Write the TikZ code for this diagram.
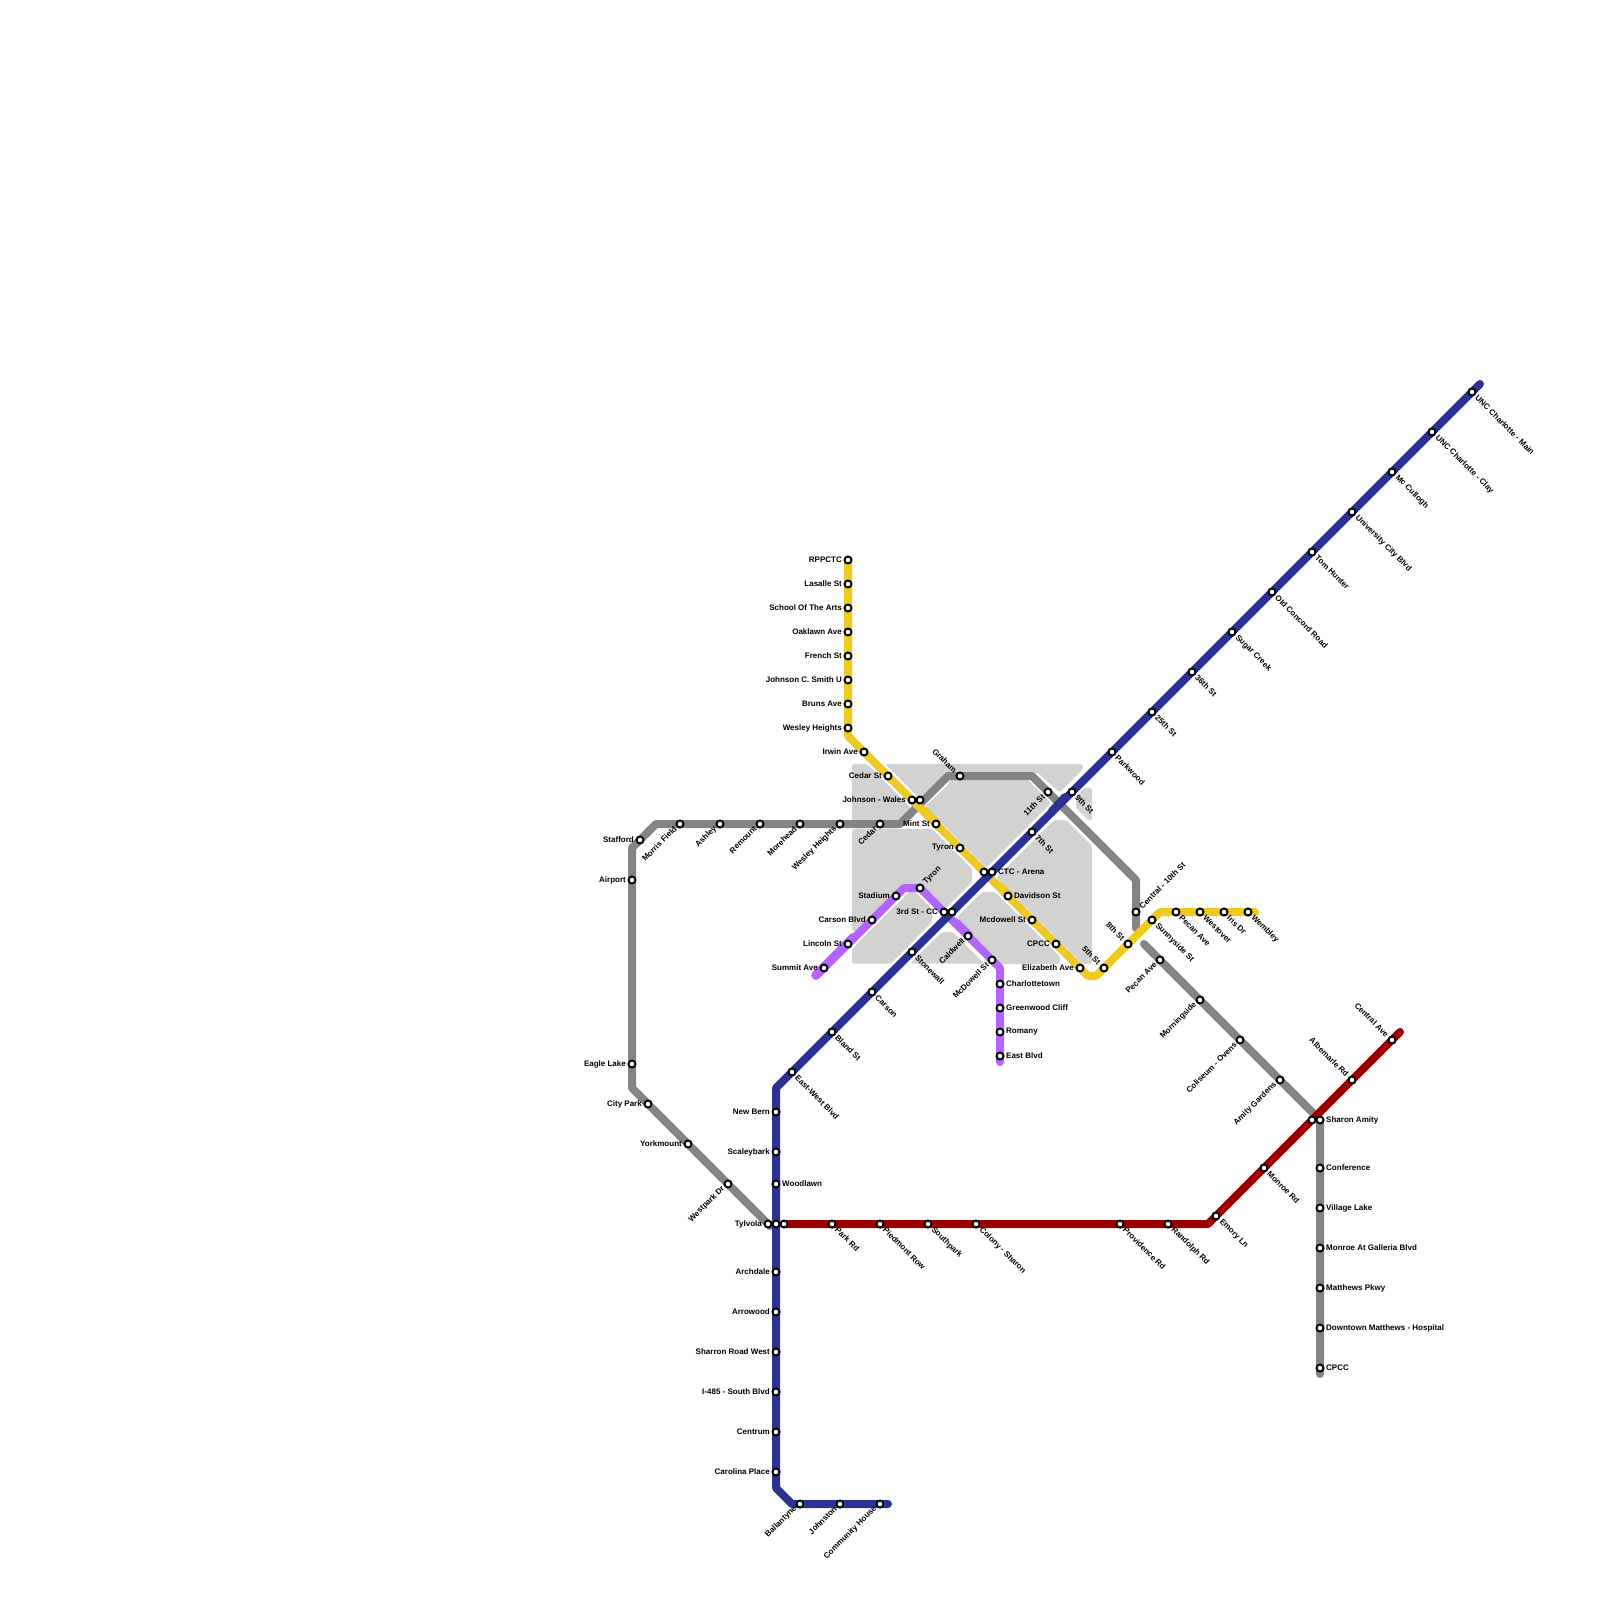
\documentclass[tikz,border=0pt]{standalone}
\usepackage{fontspec}
\setmainfont{Liberation Sans}
\usetikzlibrary{calc}
\pgfdeclarelayer{lines}
\pgfsetlayers{lines,main}
\definecolor{cgray}{HTML}{848484}
\definecolor{cyellow}{HTML}{F0CB1F}
\definecolor{cblue}{HTML}{2A3490}
\definecolor{cpurple}{HTML}{B565FF}
\definecolor{cred}{HTML}{990000}
\definecolor{cdistrict}{HTML}{D2D2D2}
\tikzset{
  stnmark/.style={circle,draw=black,fill=white,line width=2pt,minimum size=7pt,inner sep=0pt},
  lblbase/.style={inner sep=0pt,font=\fontsize{8}{9}\selectfont\bfseries,text=black},
  lE/.style={lblbase,anchor=west,xshift=6pt},
  lW/.style={lblbase,anchor=east,xshift=-6pt},
  lSE/.style={lblbase,anchor=west,xshift=4.5pt,yshift=-4.5pt,rotate=-45},
  lSW/.style={lblbase,anchor=east,xshift=-4.5pt,yshift=-3.5pt,rotate=45},
  lNE/.style={lblbase,anchor=west,xshift=4.5pt,yshift=4.5pt,rotate=45},
  lNW/.style={lblbase,anchor=east,xshift=-4.5pt,yshift=4.5pt,rotate=-45},
  metro/.style={line width=8pt,line cap=round,line join=round},
  district/.style={fill=cdistrict,rounded corners=2.5pt},
}
\newcommand{\stn}[5]{\node[stnmark] (#1) at (#2,#3) {}; \node[#4] (#1-l) at (#1) {#5};}
\newcommand{\stb}[3]{\node[stnmark] (#1) at (#2,#3) {};}
\begin{document}
\begin{tikzpicture}[x=1pt,y=-1pt]
\useasboundingbox (0,0) rectangle (1600,1600);
% yellow stations
\stn{rpp}{848}{560}{lW}{RPPCTC}
\stn{las}{848}{584}{lW}{Lasalle St}
\stn{sch}{848}{608}{lW}{School Of The Arts}
\stn{oak}{848}{632}{lW}{Oaklawn Ave}
\stn{fre}{848}{656}{lW}{French St}
\stn{jcs}{848}{680}{lW}{Johnson C. Smith U}
\stn{bru}{848}{704}{lW}{Bruns Ave}
\stn{wes}{848}{728}{lW}{Wesley Heights}
\stn{irw}{864}{752}{lW}{Irwin Ave}
\stn{ced}{888}{776}{lW}{Cedar St}
\stn{jwa}{912}{800}{lW}{Johnson - Wales}
\stb{jwb}{920}{800}
\stn{min}{936}{824}{lW}{Mint St}
\stn{tyy}{960}{848}{lW}{Tyron}
\stb{cta}{984}{872}
\stn{ctc}{992}{872}{lE}{CTC - Arena}
\stn{dav}{1008}{896}{lE}{Davidson St}
\stn{mcd}{1032}{920}{lW}{Mcdowell St}
\stn{cpy}{1056}{944}{lW}{CPCC}
\stn{eli}{1080}{968}{lW}{Elizabeth Ave}
\stn{fif}{1104}{968}{lNW}{5th St}
\stn{eig}{1128}{944}{lNW}{8th St}
\stn{sun}{1152}{920}{lSE}{Sunnyside St}
\stn{pey}{1176}{912}{lSE}{Pecan Ave}
\stn{wst}{1200}{912}{lSE}{Westover}
\stn{iri}{1224}{912}{lSE}{Iris Dr}
\stn{wem}{1248}{912}{lSE}{Wembley}
% gray stations
\stn{air}{632}{880}{lW}{Airport}
\stn{sta}{640}{840}{lW}{Stafford}
\stn{mor}{680}{824}{lSW}{Morris Field}
\stn{ash}{720}{824}{lSW}{Ashley}
\stn{rem}{760}{824}{lSW}{Remount}
\stn{moh}{800}{824}{lSW}{Morehead}
\stn{weg}{840}{824}{lSW}{Wesley Heights}
\stn{ceg}{880}{824}{lSW}{Cedar}
\stn{gra}{960}{776}{lNW}{Graham}
\stn{ele}{1048}{792}{lSW}{11th St}
\stn{cen}{1136}{912}{lNE}{Central - 10th St}
\stn{peg}{1160}{960}{lSW}{Pecan Ave}
\stn{mog}{1200}{1000}{lSW}{Morningside}
\stn{col}{1240}{1040}{lSW}{Coliseum - Ovens}
\stn{ami}{1280}{1080}{lSW}{Amity Gardens}
\stb{saa}{1312}{1120}
\stn{sha}{1320}{1120}{lE}{Sharon Amity}
\stn{con}{1320}{1168}{lE}{Conference}
\stn{vil}{1320}{1208}{lE}{Village Lake}
\stn{mon}{1320}{1248}{lE}{Monroe At Galleria Blvd}
\stn{mat}{1320}{1288}{lE}{Matthews Pkwy}
\stn{dow}{1320}{1328}{lE}{Downtown Matthews - Hospital}
\stn{cpg}{1320}{1368}{lE}{CPCC}
\stn{eag}{632}{1064}{lW}{Eagle Lake}
\stn{cit}{648}{1104}{lW}{City Park}
\stn{yor}{688}{1144}{lW}{Yorkmount}
\stn{wep}{728}{1184}{lSW}{Westpark Dr}
\stn{tyl}{768}{1224}{lW}{Tylvola}
% blue stations
\stn{ban}{800}{1504}{lSW}{Ballantyne}
\stn{joh}{840}{1504}{lSW}{Johnston}
\stn{com}{880}{1504}{lSW}{Community House}
\stn{car}{776}{1472}{lW}{Carolina Place}
\stn{cet}{776}{1432}{lW}{Centrum}
\stn{ifo}{776}{1392}{lW}{I-485 - South Blvd}
\stn{shr}{776}{1352}{lW}{Sharron Road West}
\stn{arr}{776}{1312}{lW}{Arrowood}
\stn{arc}{776}{1272}{lW}{Archdale}
\stb{tyb}{776}{1224}
\stn{woo}{776}{1184}{lE}{Woodlawn}
\stn{sca}{776}{1152}{lW}{Scaleybark}
\stn{new}{776}{1112}{lW}{New Bern}
\stn{eas}{792}{1072}{lSE}{East-West Blvd}
\stn{bla}{832}{1032}{lSE}{Bland St}
\stn{cas}{872}{992}{lSE}{Carson}
\stn{sto}{912}{952}{lSE}{Stonewall}
\stn{tha}{944}{912}{lW}{3rd St - CC}
\stb{thb}{952}{912}
\stn{sev}{1032}{832}{lSE}{7th St}
\stn{nin}{1072}{792}{lSE}{9th St}
\stn{par}{1112}{752}{lSE}{Parkwood}
\stn{twe}{1152}{712}{lSE}{25th St}
\stn{thi}{1192}{672}{lSE}{36th St}
\stn{sug}{1232}{632}{lSE}{Sugar Creek}
\stn{old}{1272}{592}{lSE}{Old Concord Road}
\stn{tom}{1312}{552}{lSE}{Tom Hunter}
\stn{uni}{1352}{512}{lSE}{University City Blvd}
\stn{mcc}{1392}{472}{lSE}{Mc Cullogh}
\stn{unc}{1432}{432}{lSE}{UNC Charlotte - Clay}
\stn{unm}{1472}{392}{lSE}{UNC Charlotte - Main}
% purple stations
\stn{sum}{824}{968}{lW}{Summit Ave}
\stn{lin}{848}{944}{lW}{Lincoln St}
\stn{cab}{872}{920}{lW}{Carson Blvd}
\stn{sad}{896}{896}{lW}{Stadium}
\stn{typ}{920}{888}{lNE}{Tyron}
\stn{cal}{968}{936}{lSW}{Caldwell}
\stn{mcs}{992}{960}{lSW}{McDowell St}
\stn{cha}{1000}{984}{lE}{Charlottetown}
\stn{gre}{1000}{1008}{lE}{Greenwood Cliff}
\stn{rom}{1000}{1032}{lE}{Romany}
\stn{ebl}{1000}{1056}{lE}{East Blvd}
% red stations
\stb{tyr}{784}{1224}
\stn{prk}{832}{1224}{lSE}{Park Rd}
\stn{pie}{880}{1224}{lSE}{Piedmont Row}
\stn{sou}{928}{1224}{lSE}{Southpark}
\stn{cos}{976}{1224}{lSE}{Colony - Sharon}
\stn{pro}{1120}{1224}{lSE}{Providence Rd}
\stn{ran}{1168}{1224}{lSE}{Randolph Rd}
\stn{emo}{1216}{1216}{lSE}{Emory Ln}
\stn{mnr}{1264}{1168}{lSE}{Monroe Rd}
\stn{alb}{1352}{1080}{lNW}{Albemarle Rd}
\stn{cea}{1392}{1040}{lNW}{Central Ave}
% free ends and bends
\coordinate (yb1) at (848,736);
\coordinate (yb2) at (1088,976);
\coordinate (yb3) at (1096,976);
\coordinate (yb4) at (1160,912);
\coordinate (yend) at (1255,912);
\coordinate (ga0) at (770,1226);
\coordinate (gb1) at (632,1088);
\coordinate (gb2) at (632,848);
\coordinate (gb3) at (656,824);
\coordinate (gb4) at (900,824);
\coordinate (gb5) at (948,776);
\coordinate (gb6) at (1032,776);
\coordinate (gb7) at (1136,880);
\coordinate (gaend) at (1136,928);
\coordinate (gc0) at (1144,944);
\coordinate (gc1) at (1320,1120);
\coordinate (gcend) at (1320,1374);
\coordinate (bl0) at (888,1504);
\coordinate (bl1) at (792,1504);
\coordinate (bl2) at (776,1488);
\coordinate (bl3) at (776,1088);
\coordinate (blend) at (1480,384);
\coordinate (pu0) at (816,976);
\coordinate (pu1) at (904,888);
\coordinate (pu2) at (1000,968);
\coordinate (puend) at (1000,1062);
\coordinate (re1) at (1208,1224);
\coordinate (reend) at (1400,1032);
\begin{pgfonlayer}{lines}
% district blocks
\fill[district] (852,764) -- (867,764) -- (916.5,813.5) -- (905,825) -- (898,825) -- (898,828) -- (852,828) -- cycle;
\fill[district] (885,764) -- (1083,764) -- (1083,769) -- (1059.5,792.5) -- (1037,772) -- (1030,776) -- (945,776) -- (922.5,801.5) -- cycle;
\fill[district] (925,806) -- (948,785) -- (952,776) -- (1024,776) -- (1051,803) -- (986,868) -- cycle;
\fill[district] (852,829) -- (932,829) -- (972,869) -- (972,882) -- (943,911) -- (920,888) -- (904,888) -- (861,931) -- (852,931) -- cycle;
\fill[district] (912,889) -- (932,909) -- (932,922) -- (891,963.5) -- (852,963.5) -- (852,949) -- cycle;
\fill[district] (1054,820) -- (1066,820) -- (1092,846) -- (1092,964) -- (1082,964) -- (996,878) -- cycle;
\fill[district] (1084,788) -- (1092,788) -- (1092,820) -- (1088,820) -- (1076,808) -- (1076,797) -- cycle;
\fill[district] (982,892) -- (995,892) -- (1060,957) -- (1060,964) -- (1000,964) -- (992,960) -- (953,921) -- cycle;
\fill[district] (942,932) -- (953,932) -- (984,963.5) -- (910,963.5) -- cycle;
% gray lines
\draw[metro,cgray] (ga0) -- (tyl.center) -- (wep.center) -- (yor.center) -- (cit.center) -- (gb1) -- (eag.center) -- (air.center) -- (gb2) -- (sta.center) -- (gb3) -- (mor.center) -- (ash.center) -- (rem.center) -- (moh.center) -- (weg.center) -- (ceg.center) -- (gb4) -- (gb5) -- (gra.center) -- (gb6) -- (ele.center) -- (gb7) -- (cen.center) -- (gaend);
\draw[metro,cgray] (gc0) -- (peg.center) -- (mog.center) -- (col.center) -- (ami.center) -- (gc1) -- (sha.center) -- (con.center) -- (vil.center) -- (mon.center) -- (mat.center) -- (dow.center) -- (cpg.center) -- (gcend);
% yellow line
\draw[metro,cyellow] (rpp.center) -- (las.center) -- (sch.center) -- (oak.center) -- (fre.center) -- (jcs.center) -- (bru.center) -- (wes.center) -- (yb1) -- (irw.center) -- (ced.center) -- (jwa.center) -- (min.center) -- (tyy.center) -- (cta.center) -- (dav.center) -- (mcd.center) -- (cpy.center) -- (eli.center) -- (yb2) -- (yb3) -- (fif.center) -- (eig.center) -- (sun.center) -- (yb4) -- (pey.center) -- (wst.center) -- (iri.center) -- (wem.center) -- (yend);
\draw[metro,cyellow] ($(jwa)+(12,10)$) -- ($(min)+(1,-1)$);
\draw[metro,cyellow] ($(cta)+(16,14)$) -- ($(dav)+(1,-1)$);
% purple line
\draw[metro,cpurple] (pu0) -- (sum.center) -- (lin.center) -- (cab.center) -- (sad.center) -- (pu1) -- (typ.center) -- (cal.center) -- (mcs.center) -- (pu2) -- (cha.center) -- (gre.center) -- (rom.center) -- (ebl.center) -- (puend);
\draw[metro,cpurple] ($(pu0)+(-0.8,-0.8)$) -- ($(lin)+(5,-7)$);
\draw[metro,cpurple] ($(thb)+(5,11)$) -- ($(cal)+(1,-1)$);
% red line
\draw[metro,cred] (tyr.center) -- (prk.center) -- (pie.center) -- (sou.center) -- (cos.center) -- (pro.center) -- (ran.center) -- (re1) -- (emo.center) -- (mnr.center) -- (alb.center) -- (cea.center) -- (reend);
% blue line
\draw[metro,cblue] (bl0) -- (com.center) -- (joh.center) -- (ban.center) -- (bl1) -- (bl2) -- (car.center) -- (cet.center) -- (ifo.center) -- (shr.center) -- (arr.center) -- (arc.center) -- (tyb.center) -- (woo.center) -- (sca.center) -- (new.center) -- (bl3) -- (eas.center) -- (bla.center) -- (cas.center) -- (sto.center) -- (thb.center) -- (ctc.center) -- (sev.center) -- (nin.center) -- (par.center) -- (twe.center) -- (thi.center) -- (sug.center) -- (old.center) -- (tom.center) -- (uni.center) -- (mcc.center) -- (unc.center) -- (unm.center) -- (blend);
\draw[metro,cblue] ($(sev)+(20,-21)$) -- ($(nin)+(-7,5)$);
\end{pgfonlayer}
\end{tikzpicture}
\end{document}
